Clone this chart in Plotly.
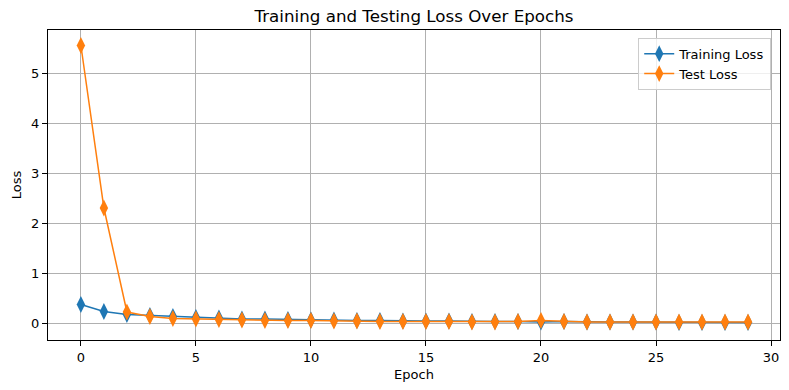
import plotly.graph_objects as go

epochs = list(range(30))
train_loss = [0.37, 0.23, 0.17, 0.15, 0.13, 0.11, 0.10, 0.08, 0.08, 0.07,
              0.06, 0.06, 0.05, 0.05, 0.04, 0.04, 0.04, 0.03, 0.03, 0.03,
              0.02, 0.03, 0.02, 0.02, 0.02, 0.02, 0.01, 0.01, 0.01, 0.01]
test_loss = [5.55, 2.30, 0.22, 0.13, 0.09, 0.08, 0.07, 0.06, 0.05, 0.05,
             0.05, 0.04, 0.04, 0.03, 0.03, 0.03, 0.03, 0.02, 0.02, 0.03,
             0.05, 0.03, 0.02, 0.02, 0.02, 0.02, 0.02, 0.02, 0.02, 0.02]
x_ticks = [0, 5, 10, 15, 20, 25, 30]
y_ticks = [0, 1, 2, 3, 4, 5]

font = "DejaVu Sans"
fig = go.Figure()
fig.add_trace(go.Scatter(x=epochs, y=train_loss, mode="lines+markers", name="Training Loss",
                         line=dict(color="#1f77b4", width=1.5),
                         marker=dict(symbol="diamond-tall", size=12, color="#1f77b4")))
fig.add_trace(go.Scatter(x=epochs, y=test_loss, mode="lines+markers", name="Test Loss",
                         line=dict(color="#ff7f0e", width=1.5),
                         marker=dict(symbol="diamond-tall", size=12, color="#ff7f0e")))

axis_common = dict(showline=True, linecolor="black", linewidth=1, mirror=True,
                   ticks="outside", ticklen=5, tickcolor="black",
                   showgrid=True, gridcolor="#b0b0b0", gridwidth=1, zeroline=False,
                   tickfont=dict(family=font, size=13, color="black"))
fig.update_xaxes(range=[-1.43, 30.39], tickvals=x_ticks,
                 title=dict(text="Epoch", font=dict(family=font, size=13, color="black"), standoff=6),
                 **axis_common)
fig.update_yaxes(range=[-0.34, 5.86], tickvals=y_ticks,
                 title=dict(text="Loss", font=dict(family=font, size=13, color="black"), standoff=6),
                 **axis_common)

fig.update_layout(
    width=789, height=390,
    margin=dict(l=48, r=9, t=30, b=50, autoexpand=False),
    plot_bgcolor="white", paper_bgcolor="white",
    title=dict(text="Training and Testing Loss Over Epochs", x=0.5, xref="paper",
               y=1 - 16 / 390, yanchor="middle",
               font=dict(family=font, size=16.7, color="black")),
    legend=dict(x=0.988, y=0.975, xanchor="right", yanchor="top",
                bgcolor="rgba(255,255,255,0.8)", bordercolor="#cccccc", borderwidth=1,
                font=dict(family=font, size=13, color="black")),
    showlegend=True,
)

fig.write_html("out.html", config={"displayModeBar": False},
               post_script="document.body.style.margin='0';")
